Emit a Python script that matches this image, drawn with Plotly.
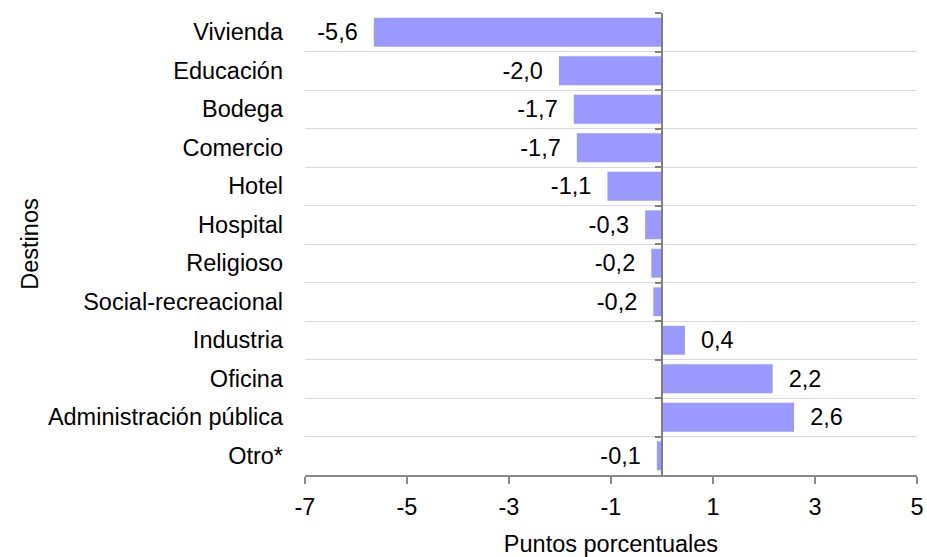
import plotly.graph_objects as go

categories = ["Vivienda", "Educación", "Bodega", "Comercio", "Hotel", "Hospital",
              "Religioso", "Social-recreacional", "Industria", "Oficina",
              "Administración pública", "Otro*"]
values = [-5.65, -2.02, -1.73, -1.67, -1.07, -0.33, -0.21, -0.17, 0.45, 2.17, 2.59, -0.1]
value_labels = ["-5,6", "-2,0", "-1,7", "-1,7", "-1,1", "-0,3", "-0,2", "-0,2",
                "0,4", "2,2", "2,6", "-0,1"]
x_ticks = [-7, -5, -3, -1, 1, 3, 5]

FONT = "Liberation Sans, Arial, sans-serif"
FS = 23.5
pad = "\u00a0\u00a0"
texts = [(lbl + pad) if v < 0 else (pad + lbl) for lbl, v in zip(value_labels, values)]

fig = go.Figure()
fig.add_trace(go.Bar(
    x=values, y=categories, orientation="h",
    marker=dict(color="#9999ff", line=dict(width=0)),
    text=texts, textposition="outside", cliponaxis=False, constraintext="none",
    textfont=dict(family=FONT, size=FS, color="#000000"),
    hoverinfo="x+y", showlegend=False,
))
# helper (invisible) trace to draw the vertical axis at zero with boundary ticks
fig.add_trace(go.Scatter(
    x=[0] * len(categories), y=categories, yaxis="y2", mode="markers",
    marker=dict(opacity=0, size=1), hoverinfo="skip", showlegend=False,
))

n = len(categories)
fig.update_layout(
    width=927, height=557,
    margin=dict(l=305, r=10, t=13, b=82, autoexpand=False),
    paper_bgcolor="white", plot_bgcolor="white",
    font=dict(family=FONT, size=FS, color="#000000"),
    bargap=0.25,
    xaxis=dict(
        range=[-7, 5], tickmode="array", tickvals=x_ticks,
        ticktext=[str(t) for t in x_ticks],
        showgrid=False, zeroline=False, automargin=False,
        showline=True, linecolor="#898989", linewidth=1.5,
        ticks="outside", ticklen=7, tickcolor="#898989", tickwidth=1.5,
        ticklabelstandoff=3,
        tickfont=dict(family=FONT, size=FS, color="#000000"),
        title=dict(text="Puntos porcentuales", font=dict(family=FONT, size=FS),
                   standoff=18),
    ),
    yaxis=dict(
        type="category", categoryorder="array", categoryarray=categories,
        range=[n - 0.5, -0.5], automargin=False,
        tickson="boundaries", ticks="", showline=False,
        showgrid=True, gridcolor="#d9d9d9", gridwidth=1.3,
        ticklabelstandoff=21,
        tickfont=dict(family=FONT, size=FS, color="#000000"),
        title=dict(text="Destinos", font=dict(family=FONT, size=FS), standoff=2),
    ),
    yaxis2=dict(
        type="category", categoryorder="array", categoryarray=categories,
        range=[n - 0.5, -0.5], automargin=False,
        overlaying="y", anchor="free", position=7 / 12, side="left",
        showticklabels=False, showgrid=False, zeroline=False,
        showline=True, linecolor="#7f7f7f", linewidth=2,
        tickson="boundaries", ticks="outside", ticklen=6,
        tickcolor="#7f7f7f", tickwidth=1.5,
    ),
)

# remove the default 8px page margin so the figure fills the window exactly
fig.write_html("out.html", config={"displayModeBar": False},
               post_script="document.body.style.margin='0';")
